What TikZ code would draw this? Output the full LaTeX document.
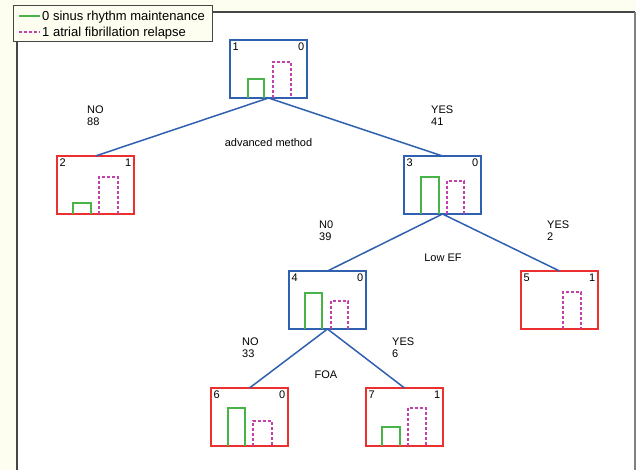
\documentclass[tikz,border=0pt]{standalone}
\usepackage{fontspec}
\setmainfont{Liberation Sans}
\usepackage{xcolor}

\definecolor{cream}{RGB}{253,253,240}
\definecolor{boxblue}{RGB}{48,96,176}
\definecolor{boxred}{RGB}{236,48,48}
\definecolor{bargreen}{RGB}{72,180,72}
\definecolor{barpink}{RGB}{196,64,170}
\definecolor{framegray}{RGB}{70,70,70}

\begin{document}
\begin{tikzpicture}[x=1pt,y=-1pt,
  treebox/.style={draw,rectangle,line width=1.8pt,minimum width=77pt,minimum height=58pt,inner sep=0,outer sep=0},
  bluebox/.style={treebox,boxblue},
  redbox/.style={treebox,boxred},
  count/.style={font=\fontsize{11}{12}\selectfont,inner sep=2.5pt},
  lbl/.style={font=\fontsize{11}{12}\selectfont,inner sep=0,align=left},
  edge/.style={boxblue,line width=1.5pt},
  greenbar/.style={bargreen,line width=1.4pt},
  pinkbar/.style={barpink,line width=1.4pt,dash pattern=on 3pt off 2pt}]
\useasboundingbox (0,0) rectangle (636,470);
\fill[cream] (0,0) rectangle (636,470);
\fill[white] (17,12) rectangle (636,470);
\draw[framegray,line width=1.5pt] (17,470) -- (17,12) -- (635,12);
\draw[gray,line width=1.2pt] (635,12) -- (635,470);
% legend
\draw[framegray,fill=cream,line width=1pt] (13,6) rectangle (212,42);
\coordinate (g0) at (19,16);
\coordinate (g1) at (40,16);
\coordinate (p0) at (19,32);
\coordinate (p1) at (40,32);
\draw[greenbar] (g0) -- (g1);
\draw[pinkbar] (p0) -- (p1);
\node[anchor=base west,inner sep=0,font=\fontsize{13}{14}\selectfont] (leg0) at (42,20.5) {0 sinus rhythm maintenance};
\node[anchor=base west,inner sep=0,font=\fontsize{13}{14}\selectfont] (leg1) at (42,36.5) {1 atrial fibrillation relapse};
% nodes
\node[bluebox] (n1) at (268.5,69) {};
\node[redbox] (n2) at (95.5,185) {};
\node[bluebox] (n3) at (442.5,185) {};
\node[bluebox] (n4) at (327.5,300) {};
\node[redbox] (n5) at (559.5,300) {};
\node[redbox] (n6) at (249.5,417) {};
\node[redbox] (n7) at (404.5,417) {};
% class numbers
\node[count,anchor=north west] (n1a) at (n1.north west) {1};
\node[count,anchor=north east] (n1b) at (n1.north east) {0};
\node[count,anchor=north west] (n2a) at (n2.north west) {2};
\node[count,anchor=north east] (n2b) at (n2.north east) {1};
\node[count,anchor=north west] (n3a) at (n3.north west) {3};
\node[count,anchor=north east] (n3b) at (n3.north east) {0};
\node[count,anchor=north west] (n4a) at (n4.north west) {4};
\node[count,anchor=north east] (n4b) at (n4.north east) {0};
\node[count,anchor=north west] (n5a) at (n5.north west) {5};
\node[count,anchor=north east] (n5b) at (n5.north east) {1};
\node[count,anchor=north west] (n6a) at (n6.north west) {6};
\node[count,anchor=north east] (n6b) at (n6.north east) {0};
\node[count,anchor=north west] (n7a) at (n7.north west) {7};
\node[count,anchor=north east] (n7b) at (n7.north east) {1};
% bars
\draw[greenbar] (248,98) -- (248,79) -- (264,79) -- (264,98);
\draw[pinkbar] (273,98) -- (273,62) -- (291,62) -- (291,98);
\draw[greenbar] (73,214) -- (73,203) -- (91,203) -- (91,214);
\draw[pinkbar] (99,214) -- (99,177) -- (118,177) -- (118,214);
\draw[greenbar] (421,214) -- (421,177) -- (439,177) -- (439,214);
\draw[pinkbar] (447,214) -- (447,181) -- (464,181) -- (464,214);
\draw[greenbar] (305,329) -- (305,293) -- (322,293) -- (322,329);
\draw[pinkbar] (331,329) -- (331,301) -- (348,301) -- (348,329);
\draw[pinkbar] (563,329) -- (563,292) -- (581,292) -- (581,329);
\draw[greenbar] (228,446) -- (228,408) -- (245,408) -- (245,446);
\draw[pinkbar] (253,446) -- (253,421) -- (272,421) -- (272,446);
\draw[greenbar] (382,446) -- (382,427) -- (400,427) -- (400,446);
\draw[pinkbar] (408,446) -- (408,408) -- (426,408) -- (426,446);
% connectors
\draw[edge] (n1.south) -- (n2.north);
\draw[edge] (n1.south) -- (n3.north);
\draw[edge] (n3.south) -- (n4.north);
\draw[edge] (n3.south) -- (n5.north);
\draw[edge] (n4.south) -- (n6.north);
\draw[edge] (n4.south) -- (n7.north);
% branch labels
\node[lbl,anchor=base west] (b2) at (87,126) {NO\\88};
\node[lbl,anchor=base west] (b3) at (431,126) {YES\\41};
\node[lbl,anchor=base west] (b4) at (319,240) {N0\\39};
\node[lbl,anchor=base west] (b5) at (547,240) {YES\\2};
\node[lbl,anchor=base west] (b6) at (242,357) {NO\\33};
\node[lbl,anchor=base west] (b7) at (392,357) {YES\\6};
% split labels
\node[lbl,anchor=base] (s1) at (268.5,147) {advanced method};
\node[lbl,anchor=base] (s3) at (443,261) {Low EF};
\node[lbl,anchor=base] (s4) at (326,378) {FOA};
\end{tikzpicture}
\end{document}
